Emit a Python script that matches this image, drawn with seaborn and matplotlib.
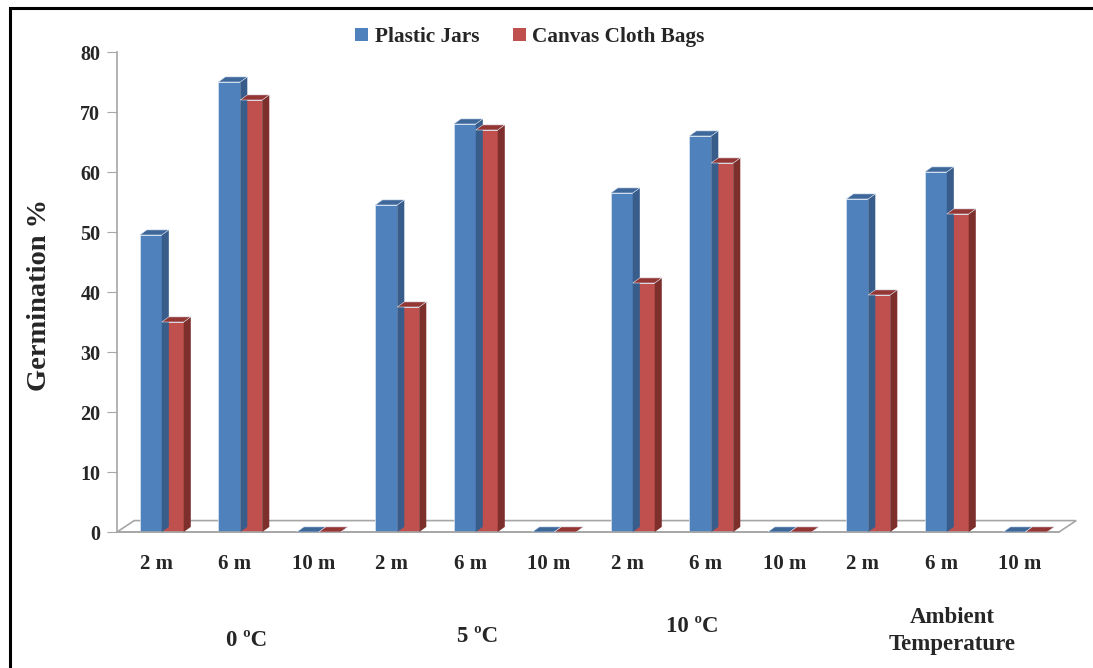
import matplotlib.pyplot as plt
import pandas as pd
import seaborn as sns
from matplotlib.patches import Patch, Polygon, Rectangle

# data
groups = ["0 ºC", "5 ºC", "10 ºC", "Ambient\nTemperature"]
distances = ["2 m", "6 m", "10 m"]
plastic_jars = [49.5, 75, 0, 54.5, 68, 0, 56.5, 66, 0, 55.5, 60, 0]
canvas_bags = [35, 72, 0, 37.5, 67, 0, 41.5, 61.5, 0, 39.5, 53, 0]
series = ["Plastic Jars", "Canvas Cloth Bags"]
y_ticks = [0, 10, 20, 30, 40, 50, 60, 70, 80]

front = {"Plastic Jars": "#4F81BD", "Canvas Cloth Bags": "#C0504D"}
side = {"Plastic Jars": "#385D8A", "Canvas Cloth Bags": "#7D2F2C"}
top = {"Plastic Jars": "#3E679A", "Canvas Cloth Bags": "#933634"}


def build_frame():
    keys = [f"{g}|{d}" for g in groups for d in distances]
    rows = []
    for name, vals in zip(series, [plastic_jars, canvas_bags]):
        for k, v in zip(keys, vals):
            rows.append({"cat": k, "series": name, "value": v})
    return pd.DataFrame(rows), keys


def add_depth(ax, dx=0.09, dy=0.85):
    for cont, name in zip(ax.containers, series):
        for p in cont.patches:
            p.set_x(p.get_x() + 0.07)
            x, w, h = p.get_x(), p.get_width(), p.get_height()
            top_face = Polygon(
                [(x, h), (x + w, h), (x + w + dx, h + dy), (x + dx, h + dy)],
                closed=True, facecolor=top[name], edgecolor="#DCE6F2",
                linewidth=0.4, zorder=3,
            )
            side_face = Polygon(
                [(x + w, 0), (x + w, h), (x + w + dx, h + dy), (x + w + dx, dy)],
                closed=True, facecolor=side[name], edgecolor="none", zorder=3,
            )
            ax.add_patch(side_face)
            ax.add_patch(top_face)


def draw_floor(ax, n, fdx=0.22, fdy=1.9):
    x0, x1 = -0.5, n - 0.5
    floor = Polygon(
        [(x0, 0), (x1, 0), (x1 + fdx, fdy), (x0 + fdx, fdy)],
        closed=True, facecolor="white", edgecolor="#A6A6A6",
        linewidth=1.2, zorder=1, clip_on=False,
    )
    ax.add_patch(floor)


def main():
    df, keys = build_frame()

    sns.set_style("white")
    plt.rcParams["font.family"] = ["Liberation Serif", "DejaVu Serif"]
    plt.rcParams["font.weight"] = "bold"

    fig = plt.figure(figsize=(10.93, 6.68), dpi=100)
    ax = fig.add_axes([117 / 1093, 1 - 532 / 668, 942 / 1093, 480 / 668])

    draw_floor(ax, len(keys))
    sns.barplot(
        data=df, x="cat", y="value", hue="series", order=keys,
        hue_order=series, palette=front, width=0.56, saturation=1,
        edgecolor="#DCE6F2", linewidth=0.5, legend=False, ax=ax, zorder=2,
    )
    add_depth(ax)

    ax.set_xlim(-0.5, len(keys) - 0.5)
    ax.set_ylim(0, 80)
    ax.set_yticks(y_ticks)
    ax.set_yticklabels([str(t) for t in y_ticks], fontsize=14.5, fontweight="bold")
    ax.set_xticks(range(len(keys)))
    ax.set_xticklabels(distances * len(groups), fontsize=15, fontweight="bold")
    ax.set_xticks([i - 0.5 for i in range(len(keys) + 1)], minor=True)
    ax.tick_params(axis="x", which="major", length=0, pad=16)
    ax.tick_params(axis="x", which="minor", length=7, color="#A6A6A6", direction="out")
    ax.tick_params(axis="y", length=7, color="#A6A6A6", direction="out", pad=5, left=True)
    ax.set_xlabel("")
    ax.set_ylabel("Germination %", fontsize=20.5, fontweight="bold")
    ax.yaxis.set_label_coords(-0.069, 0.494)

    for s in ["top", "right"]:
        ax.spines[s].set_visible(False)
    for s in ["left", "bottom"]:
        ax.spines[s].set_color("#A6A6A6")
        ax.spines[s].set_linewidth(1.2)
    ax.grid(False)

    # group names under the distance labels
    group_pos = [(247, 640), (478, 637), (692, 626), (952, 631)]
    for name, (px, py) in zip(groups, group_pos):
        fig.text(px / 1093, 1 - py / 668, name, ha="center", va="center",
                 fontsize=16.5, fontweight="bold", linespacing=1.42)

    handles = [Patch(facecolor=front[s], edgecolor="none") for s in series]
    fig.legend(
        handles, series, loc="center", bbox_to_anchor=(530 / 1093, 1 - 37 / 668),
        ncol=2, frameon=False, handlelength=0.6, handleheight=0.6,
        handletextpad=0.3, columnspacing=1.6,
        prop={"size": 15.3, "weight": "bold"},
    )

    fig.add_artist(Rectangle(
        (10 / 1093, -0.1), 1.2, 1 - 8 / 668 + 0.1, transform=fig.transFigure,
        fill=False, edgecolor="black", linewidth=2.2,
    ))

    fig.savefig("out.png", dpi=100)


if __name__ == "__main__":
    main()
